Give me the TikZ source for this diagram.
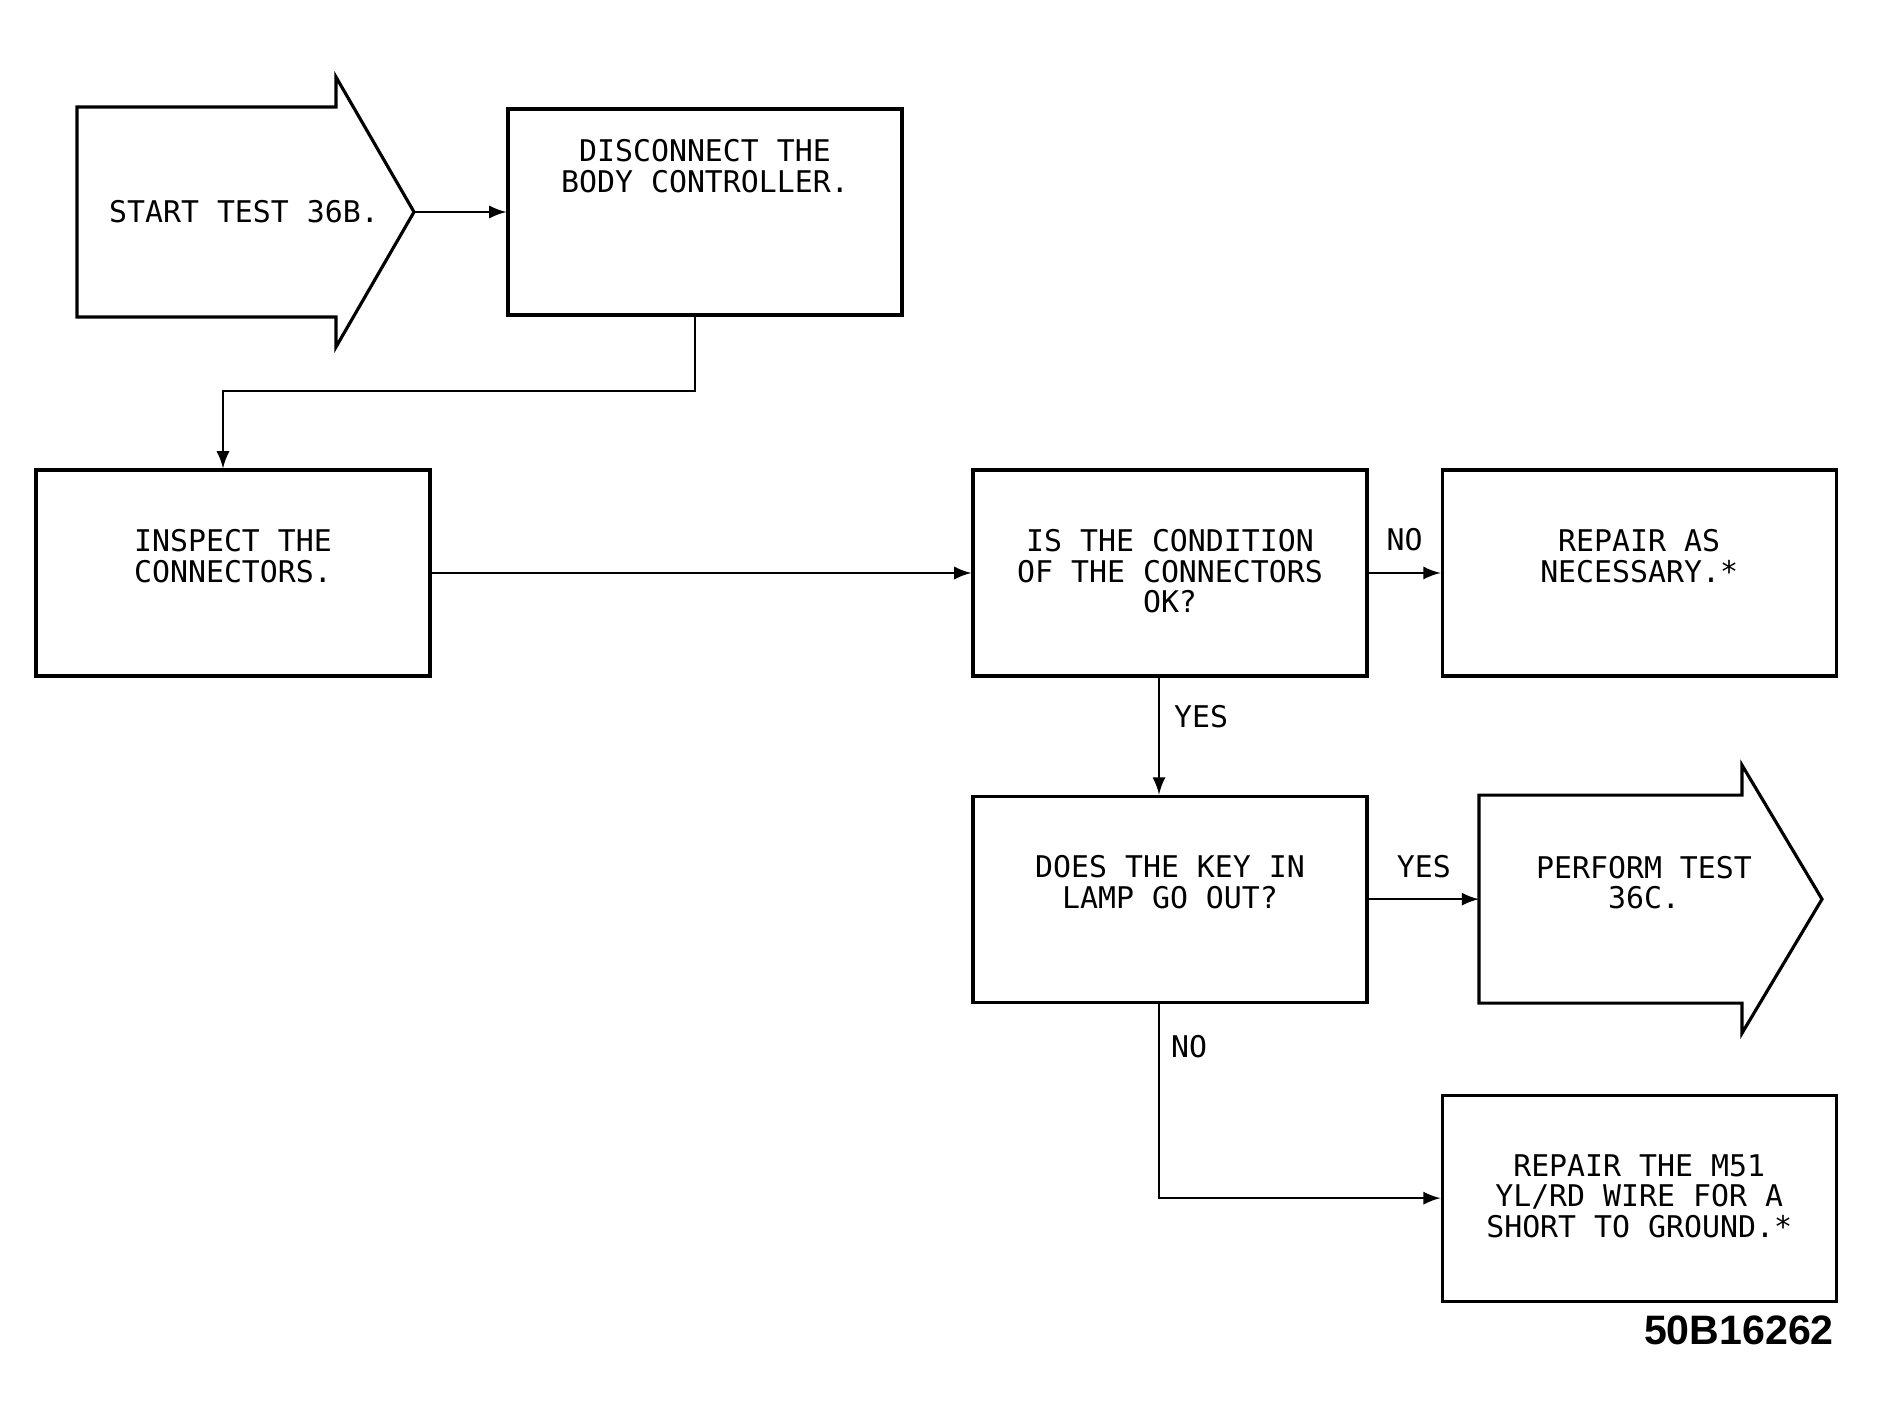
\documentclass[tikz,border=0pt]{standalone}
\usepackage{fontspec}
\setmonofont{DejaVu Sans Mono}
\newfontfamily\tagfont{Liberation Sans}
\usepackage{tikz}
\usetikzlibrary{arrows, shapes, positioning}

\tikzset{
  stepbox/.style={draw, line width=0.9pt, minimum width=3.94cm, minimum height=2.06cm, inner sep=0pt},
  testarrow/.style={draw, line width=0.9pt, line join=miter, -},
  steptext/.style={font=\ttfamily\fontsize{8.5}{8.6}\selectfont, align=center, inner sep=0pt},
  answer/.style={font=\ttfamily\fontsize{8.5}{8.6}\selectfont, inner sep=0pt}
}

\begin{document}
\begin{tikzpicture}[x=0.1mm, y=-0.1mm, -latex, line width=0.7pt]
\useasboundingbox (0,0) rectangle (1877,1423);

\node[stepbox] (disc) at (705,212) {};
\node[steptext, below=0.31cm of disc.north] (disctext) {DISCONNECT THE\\BODY CONTROLLER.};
\coordinate (starttip) at (414,0 |- disc);
\draw[testarrow] (starttip) -- ++(-78,-135) -- ++(0,30) -- ++(-259,0) -- ++(0,210) -- ++(259,0) -- ++(0,30) -- cycle;
\node[steptext] (starttext) at (244,212) {START TEST 36B.};

\node[stepbox] (insp) at (233,573) {};
\node[steptext, below=0.6cm of insp.north] (insptext) {INSPECT THE\\CONNECTORS.};
\node[stepbox] (cond) at (1170,573) {};
\node[steptext, below=0.6cm of cond.north] (condtext) {IS THE CONDITION\\OF THE CONNECTORS\\OK?};
\node[stepbox] (repair) [right=0.72cm of cond] {};
\node[steptext, below=0.6cm of repair.north] (repairtext) {REPAIR AS\\NECESSARY.*};

\node[stepbox] (lamp) [below=1.17cm of cond] {};
\node[steptext, below=0.6cm of lamp.north] (lamptext) {DOES THE KEY IN\\LAMP GO OUT?};
\coordinate (performtail) at (1479,0 |- lamp);
\draw[testarrow] (performtail) -- ++(0,-104) -- ++(263,0) -- ++(0,-30) -- ++(80,134) -- ++(-80,134) -- ++(0,-30) -- ++(-263,0) -- cycle;
\node[steptext, anchor=north] (performtext) at (1644,855) {PERFORM TEST\\36C.};

\node[stepbox] (short) [below=4.16cm of repair] {};
\node[steptext, below=0.6cm of short.north] (shorttext) {REPAIR THE M51\\YL/RD WIRE FOR A\\SHORT TO GROUND.*};

\node[font=\tagfont\bfseries\fontsize{11.7}{12}\selectfont, anchor=east, inner sep=0pt] (tag) at (1835,1330) {50B16262};

\coordinate (turn) at (0,391);
\draw (starttip) -- (disc);
\draw ([xshift=-0.1cm]disc.south) -- ([xshift=-0.1cm]disc.south |- turn) -| ([xshift=-0.1cm]insp.north);
\draw (insp) -- (cond);
\draw (cond) -- node[answer, above=0.21cm] {NO} (repair);
\draw ([xshift=-0.11cm]cond.south) -- node[answer, right=0.14cm, pos=0.33] {YES} ([xshift=-0.11cm]lamp.north);
\draw (lamp) -- node[answer, above=0.2cm] {YES} (performtail);
\draw ([xshift=-0.11cm]lamp.south) |- node[answer, right=0.11cm, pos=0.11] {NO} (short);
\end{tikzpicture}
\end{document}
